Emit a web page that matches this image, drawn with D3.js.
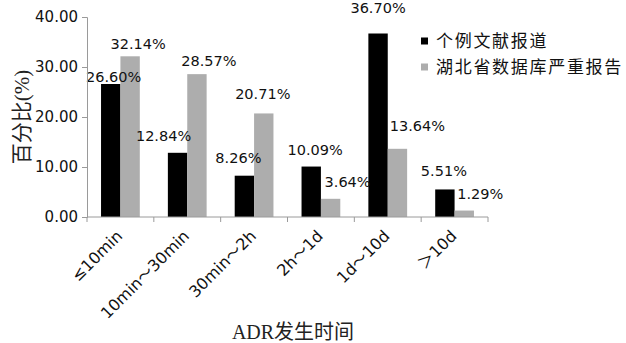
<!DOCTYPE html>
<html>
<head>
<meta charset="utf-8">
<script src="https://cdn.jsdelivr.net/npm/d3@7"></script>
<style>
  html, body { margin: 0; padding: 0; background: #fff; }
  svg { display: block; }
</style>
</head>
<body>
<svg id="chart" width="626" height="343"></svg>
<script>
// ADR onset time distribution: case literature reports vs Hubei provincial database
const categories = ["≤10min", "10min～30min", "30min～2h", "2h～1d", "1d～10d", "＞10d"];
const seriesNames = ["个例文献报道", "湖北省数据库严重报告"];
const caseReports = [26.60, 12.84, 8.26, 10.09, 36.70, 5.51];
const hubeiSevere = [32.14, 28.57, 20.71, 3.64, 13.64, 1.29];
const yTicks = [0, 10, 20, 30, 40];

// hand-placed value-label nudges (dx from bar centre, dy above bar top)
const labelNudge = [
  [[3, -2], [-14, -12], [-6, -13], [4, -12], [0, -21], [-1, -13]],
  [[8, -7], [12, -8], [-1, -14], [17, -12], [20, -18], [16, -12]]
];

const colors = ["#000000", "#adadad"];
const axisColor = "#9a9a9a";
const numFont = "'DejaVu Sans', Verdana, sans-serif";
const cjkFont = "'Noto Sans CJK SC', sans-serif";

const svg = d3.select("#chart");
const plot = { left: 87, right: 488, top: 17, bottom: 217 };

const x0 = d3.scaleBand().domain(categories).range([plot.left, plot.right]).padding(0);
const bw = x0.bandwidth();
const x1 = d3.scaleBand().domain([0, 1]).range([0.21 * bw, 0.79 * bw]).padding(0);
const y = d3.scaleLinear().domain([0, 40]).range([plot.bottom, plot.top]);

const series = [caseReports, hubeiSevere];

// bars
series.forEach((vals, si) => {
  svg.append("g").selectAll("rect")
    .data(vals)
    .join("rect")
    .attr("x", (d, i) => x0(categories[i]) + x1(si))
    .attr("y", d => y(d))
    .attr("width", x1.bandwidth())
    .attr("height", d => y(0) - y(d))
    .attr("fill", colors[si]);
});

// value labels
series.forEach((vals, si) => {
  svg.append("g").selectAll("text")
    .data(vals)
    .join("text")
    .attr("x", (d, i) => x0(categories[i]) + x1(si) + x1.bandwidth() / 2 + labelNudge[si][i][0])
    .attr("y", (d, i) => y(d) + labelNudge[si][i][1])
    .attr("text-anchor", "middle")
    .attr("font-family", numFont)
    .attr("font-size", 14.5)
    .attr("fill", "#111")
    .text(d => d.toFixed(2) + "%");
});

// y axis
const yAxis = svg.append("g")
  .attr("transform", `translate(${plot.left},0)`)
  .call(d3.axisLeft(y).tickValues(yTicks).tickFormat(d3.format(".2f")).tickSize(5).tickPadding(4));
yAxis.select(".domain").attr("stroke", axisColor);
yAxis.selectAll(".tick line").attr("stroke", axisColor);
yAxis.selectAll(".tick text")
  .attr("font-family", numFont)
  .attr("font-size", 15)
  .attr("fill", "#111");

// x axis baseline with boundary ticks
const xAxisG = svg.append("g");
xAxisG.append("line")
  .attr("x1", plot.left).attr("x2", plot.right)
  .attr("y1", y(0)).attr("y2", y(0))
  .attr("stroke", axisColor);
const bounds = categories.map(c => x0(c)).concat([plot.right]);
xAxisG.selectAll(".xt")
  .data(bounds)
  .join("line")
  .attr("x1", d => d).attr("x2", d => d)
  .attr("y1", y(0)).attr("y2", y(0) + 5)
  .attr("stroke", axisColor);

// rotated category labels; full-width symbols use the CJK face
const isWide = ch => /[～＞]/.test(ch);
xAxisG.selectAll(".xl")
  .data(categories)
  .join("text")
  .attr("transform", d => `translate(${x0(d) + bw / 2 + 3},${y(0) + 20}) rotate(-45)`)
  .attr("text-anchor", "end")
  .attr("font-family", numFont)
  .attr("font-size", 16)
  .attr("fill", "#111")
  .each(function (d) {
    const t = d3.select(this);
    const parts = d.split(/([～＞])/).filter(s => s.length);
    parts.forEach(p => {
      t.append("tspan")
        .attr("font-family", isWide(p) ? cjkFont : numFont)
        .text(p);
    });
  });

// axis titles
svg.append("text")
  .attr("transform", `translate(29,${(plot.top + plot.bottom) / 2}) rotate(-90)`)
  .attr("text-anchor", "middle")
  .attr("font-family", "'Liberation Serif', " + cjkFont)
  .attr("font-size", 21)
  .attr("fill", "#222")
  .text("百分比(%)");

svg.append("text")
  .attr("x", 293)
  .attr("y", 339)
  .attr("text-anchor", "middle")
  .attr("font-family", "'Liberation Serif', " + cjkFont)
  .attr("font-size", 20)
  .attr("fill", "#222")
  .text("ADR发生时间");

// legend
const legend = svg.append("g");
seriesNames.forEach((name, i) => {
  const cy = 41 + i * 26;
  legend.append("rect")
    .attr("x", 421).attr("y", cy - 3.5)
    .attr("width", 7).attr("height", 7)
    .attr("fill", colors[i]);
  legend.append("text")
    .attr("x", 436).attr("y", cy)
    .attr("dy", "0.36em")
    .attr("font-family", cjkFont)
    .attr("font-size", 17)
    .attr("letter-spacing", 1.7)
    .attr("fill", "#111")
    .text(name);
});
</script>
</body>
</html>
